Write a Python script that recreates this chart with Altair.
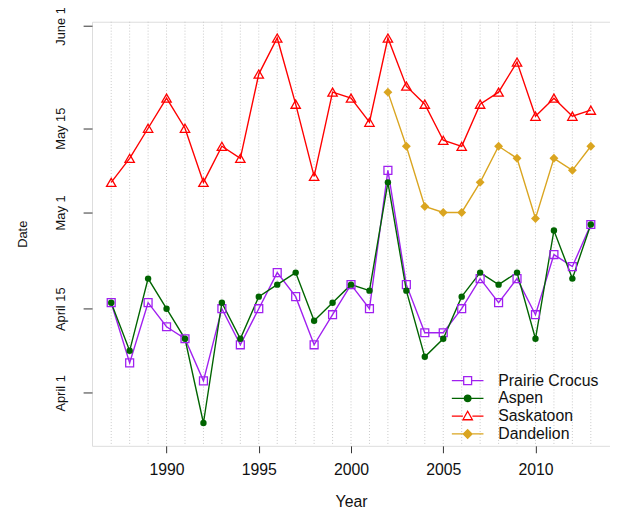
import altair as alt
import pandas as pd

years = list(range(1987, 2014))
crocus = [106, 96, 106, 102, 100, 93, 105, 99, 105, 111, 107, 99, 104, 109, 105,
          128, 109, 101, 101, 105, 110, 106, 110, 104, 114, 112, 119]
aspen = [106, 98, 110, 105, 100, 86, 106, 100, 107, 109, 111, 103, 106, 109, 108,
         126, 108, 97, 100, 107, 111, 109, 111, 100, 118, 110, 119]
saskatoon = [126, 130, 135, 140, 135, 126, 132, 130, 144, 150, 139, 127, 141, 140, 136,
             150, 142, 139, 133, 132, 139, 141, 146, 137, 140, 137, 138]
dandelion_years = list(range(2002, 2014))
dandelion = [141, 132, 122, 121, 121, 126, 132, 130, 120, 130, 128, 132]

species = ["Prairie Crocus", "Aspen", "Saskatoon", "Dandelion"]
colors = ["#A020F0", "#006400", "#FF0000", "#DAA520"]
tick_days = [91, 105, 121, 135, 152]
tick_names = ["April 1", "April 15", "May 1", "May 15", "June 1"]
year_ticks = [1990, 1995, 2000, 2005, 2010]

rows = []
for name, ys, vals in [("Prairie Crocus", years, crocus), ("Aspen", years, aspen),
                       ("Saskatoon", years, saskatoon), ("Dandelion", dandelion_years, dandelion)]:
    for yr, v in zip(ys, vals):
        rows.append({"year": yr, "species": name, "doy": v})
df = pd.DataFrame(rows)
grid_df = pd.DataFrame({"year": years})

label_expr = " : ".join(
    [f"datum.value == {d} ? '{n}'" for d, n in zip(tick_days, tick_names)]) + " : ''"

xscale = alt.Scale(domain=[1985.96, 2014.04], nice=False, zero=False)
yscale = alt.Scale(domain=[82.2, 152.7], nice=False, zero=False)

x_enc = alt.X("year:Q", scale=xscale,
              axis=alt.Axis(values=year_ticks, format="d", title="Year", grid=False,
                            domain=False, tickSize=7, tickColor="#333",
                            labelFontSize=16, labelPadding=9, labelColor="#111",
                            labelFont="Liberation Sans", titleFont="Liberation Sans",
                            titleFontSize=16, titleFontWeight="normal", titlePadding=16,
                            titleColor="#111"))
y_enc = alt.Y("doy:Q", scale=yscale,
              axis=alt.Axis(values=tick_days, labelExpr=label_expr, title="Date",
                            grid=False, domain=False, tickSize=9, tickColor="#333",
                            labelAngle=270, labelAlign="center", labelBaseline="bottom",
                            labelPadding=16, labelFontSize=13, labelColor="#111",
                            labelFont="Liberation Sans", titleFont="Liberation Sans",
                            titleFontSize=13, titleFontWeight="normal", titlePadding=25,
                            titleColor="#111"))

grid = alt.Chart(grid_df).mark_rule(color="#c8c8c8", strokeDash=[1, 2], strokeWidth=1).encode(
    x=alt.X("year:Q", scale=xscale)
)

point_specs = {
    "Prairie Crocus": dict(shape="square", filled=False, size=64, strokeWidth=1.3),
    "Aspen": dict(shape="circle", filled=True, size=42),
    "Saskatoon": dict(shape="triangle-up", filled=False, size=90, strokeWidth=1.3),
    "Dandelion": dict(shape="diamond", filled=True, size=81),
}
line_layers = []
point_layers = []
for i, (name, col) in enumerate(zip(species, colors)):
    base = alt.Chart(df).transform_filter(alt.datum.species == name)
    if i == 0:
        line_layers.append(base.mark_line(color=col, strokeWidth=1.4).encode(
            x=x_enc, y=y_enc, order="year:Q"))
    else:
        line_layers.append(base.mark_line(color=col, strokeWidth=1.4).encode(
            x="year:Q", y="doy:Q", order="year:Q"))
    point_layers.append(
        base.mark_point(color=col, opacity=1, **point_specs[name])
        .encode(x="year:Q", y="doy:Q")
    )

legend_paths = [
    "M-2,0H-0.5M0.5,0H2M-0.5,-0.5H0.5V0.5H-0.5Z",
    "M-2,0H2M-0.42,0A0.42,0.42,0,1,0,0.42,0A0.42,0.42,0,1,0,-0.42,0Z",
    "M-2,0H-0.6M0.6,0H2M0,-0.62L0.6,0.45H-0.6Z",
    "M-2,0H2M0,-0.55L0.55,0L0,0.55L-0.55,0Z",
]
legend_fills = ["transparent", "#006400", "transparent", "#DAA520"]
leg = alt.Legend(title=None, orient="none", legendX=371, legendY=354,
                 symbolSize=256, symbolStrokeWidth=1.3, symbolOpacity=1,
                 labelFontSize=16, labelFont="Liberation Sans", labelColor="#111",
                 labelOffset=22, rowPadding=1, padding=0)
legend_layer = alt.Chart(df).transform_filter(alt.datum.year < 0).mark_point().encode(
    x="year:Q", y="doy:Q",
    shape=alt.Shape("species:N", scale=alt.Scale(domain=species, range=legend_paths), legend=leg),
    stroke=alt.Stroke("species:N", scale=alt.Scale(domain=species, range=colors), legend=leg),
    fill=alt.Fill("species:N", scale=alt.Scale(domain=species, range=legend_fills), legend=leg),
)

chart = alt.layer(grid, *line_layers, *point_layers, legend_layer).properties(
    width=524, height=429,
    title=alt.Title("1987 – 2013", fontSize=18, fontWeight="bold", font="Liberation Sans",
                    baseline="alphabetic", offset=9, anchor="middle", color="#111"),
    autosize=alt.AutoSizeParams(type="none"),
    padding={"left": 85, "top": 11, "right": 0, "bottom": 64},
).configure_view(stroke="#444", strokeWidth=1.2).configure(background="white")

chart.save("out.html", embed_options={"renderer": "svg", "actions": False})
